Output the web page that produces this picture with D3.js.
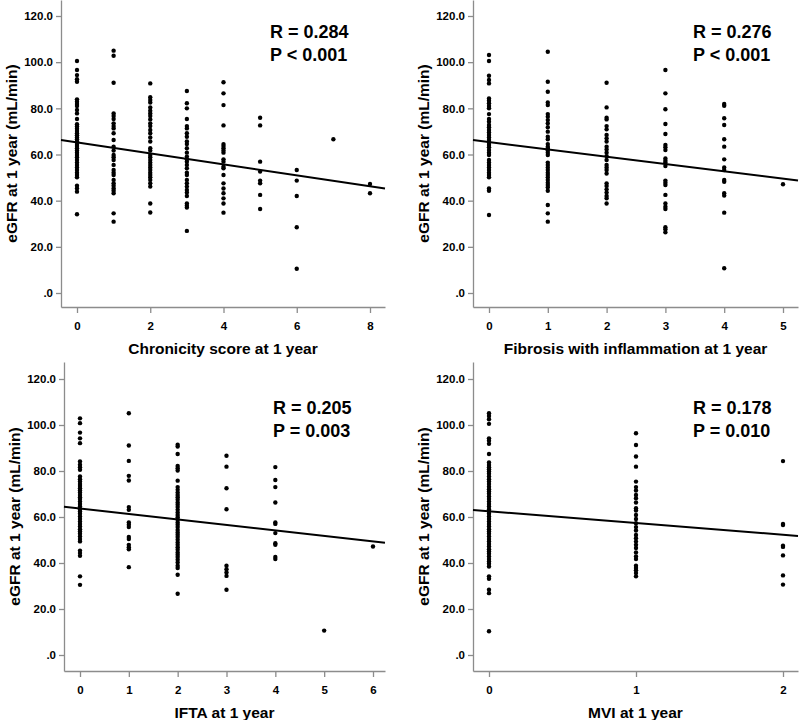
<!DOCTYPE html>
<html>
<head>
<meta charset="utf-8">
<script src="https://cdn.jsdelivr.net/npm/d3@7"></script>
<style>
    body { margin: 0; background: #fff; }
    text { font-family: "Liberation Sans", Arial, sans-serif; font-weight: bold; fill: #000; }
    .axis path, .axis line { stroke: #8c8c8c; stroke-width: 1.3; }
    .axis text { font-size: 11.5px; }
</style>
</head>
<body>
<script>
// eGFR at 1 year values, grouped by score (index = score)
var chronicityScore = [
    [100.5, 96.6, 94.4, 92.6, 91.5, 83.9, 82.9, 81.9, 81, 79.3, 77.8, 75.4, 73.1, 72.1, 71.2, 70.2, 69.2, 68.3, 67.4, 66.6, 65.6, 64.5, 63.7, 62.7, 61.7, 60.8, 59.8, 58.8, 57.6, 56.5, 55.5, 54.4, 53.3, 52.1, 51.1, 50.1, 46.5, 45.3, 43.9, 34.1],
    [105, 102.8, 91.1, 77.8, 76.7, 75.4, 73.5, 72.3, 71.3, 69.2, 66.3, 63.4, 61.7, 59.8, 58.8, 57.6, 55.5, 53.3, 52.1, 51.1, 49, 47.5, 46.5, 45.3, 44.3, 43.2, 34.5, 30.9],
    [90.8, 84.8, 83.6, 82.5, 80.4, 79, 77.8, 76.7, 75.2, 73.5, 72.3, 70.6, 69.2, 67.4, 65.6, 62.7, 61.7, 59.8, 58.8, 57.6, 56.5, 55.5, 54.4, 53.3, 52.1, 51.1, 50.1, 49, 47.5, 46.1, 38.8, 34.9],
    [87.5, 82.2, 80, 75.4, 72.3, 71.3, 69.2, 67.7, 65.6, 64.5, 62.7, 60.8, 59.1, 57.9, 56.9, 55.5, 54, 52.1, 51.1, 49, 47.5, 46.1, 44.6, 43.5, 42, 38.8, 37.8, 37, 26.9],
    [91.3, 86.5, 81.4, 72.6, 64.5, 63.7, 62.7, 61.7, 60.8, 57.9, 56.9, 54.7, 54, 51.1, 47.5, 45.3, 43.2, 41, 38.8, 34.8],
    [75.9, 72.6, 56.9, 52.6, 48.7, 47.5, 42.5, 36.4],
    [53.3, 48.7, 42, 28.5, 10.5],
    [66.6],
    [47.2, 43.2]
];
var fibrosisInflammation = [
    [103.1, 100.5, 94.1, 92.3, 90.8, 84.3, 83.3, 82.2, 81, 80, 77.5, 75.4, 74.2, 72.8, 71.8, 70.6, 69.5, 68.5, 67.4, 66.3, 65.1, 64.1, 63.1, 61.9, 60.8, 59.8, 57.6, 56.5, 55.5, 54.4, 53.3, 52.1, 51.1, 50.1, 45.3, 44.3, 33.8],
    [104.5, 91.5, 87.2, 82.5, 81.4, 77.5, 76.4, 74.9, 73.5, 71.8, 69.9, 67.7, 66.6, 64.5, 63.4, 62.7, 61.7, 60.8, 59.8, 56.5, 55.5, 54.4, 53.3, 52.1, 51.1, 50.1, 49, 47.8, 46.8, 45.8, 44.3, 38.1, 34.5, 30.9],
    [91.1, 80.4, 75.9, 75.2, 72.3, 70.9, 68.5, 67, 65.6, 63.4, 62.2, 60.8, 59.3, 57.6, 55.5, 54.4, 53.3, 51.8, 47.5, 46.4, 44.9, 43.5, 42, 41, 38.8],
    [96.6, 86.5, 79.6, 73.2, 68.9, 64.1, 63.1, 61.9, 58.3, 57.3, 56.5, 55, 48.7, 47.8, 46.8, 42.5, 38.8, 37.4, 36.4, 28.5, 27.6, 26.3],
    [81.9, 81.1, 75.7, 72.8, 66.6, 63.4, 57.9, 54.4, 53.3, 49, 48.2, 43.2, 42.2, 34.8, 10.7],
    [47.1]
];
var ifta = [
    [102.9, 100.8, 96.7, 94.2, 92.1, 84.1, 82.7, 81.6, 80.5, 77.6, 76.4, 75.4, 74.4, 73.5, 72.5, 71.5, 70.6, 69.6, 68.6, 67.8, 66.7, 65.7, 64.6, 63.4, 62.4, 61.4, 60.2, 59.1, 58, 57, 55.9, 54.7, 53.7, 52.7, 51.5, 50.4, 49.4, 45.4, 44.3, 43.1, 34.2, 30.5],
    [105.1, 91.1, 84.4, 77.9, 75.9, 64.3, 63.1, 57.6, 56.6, 55.6, 51.3, 50.4, 47.9, 46.9, 46, 38.2],
    [91.4, 90.6, 87.4, 82.2, 81.2, 80.2, 75.8, 73, 71.8, 70.6, 69.6, 68.6, 67.5, 66.3, 65.3, 64.3, 63.1, 62, 60.9, 59.9, 58.8, 57.6, 56.6, 55.6, 54.4, 53.3, 52.3, 51.3, 50.1, 48.9, 47.9, 46.9, 45.8, 44.6, 43.6, 42.6, 41.4, 40.2, 38.8, 37.8, 34.9, 26.6],
    [86.6, 81.9, 72.5, 63.4, 38.8, 37.3, 35.9, 34.4, 28.4],
    [81.7, 76.1, 73, 66.3, 57.6, 57, 53, 48.6, 47.9, 42.6, 41.7],
    [10.6],
    [47.2]
];
var mvi = [
    [105.1, 103.9, 102.5, 100.5, 94.2, 93.2, 91.8, 87.4, 83.7, 82.6, 81.6, 80.8, 79.8, 78.8, 77.6, 76.4, 75.4, 74.4, 73.2, 72.1, 71.1, 70.1, 68.9, 67.8, 66.7, 65.7, 64.6, 63.4, 62.4, 61.4, 60.2, 59.1, 58, 57, 55.9, 54.7, 53.7, 52.7, 51.5, 50.4, 49.4, 48.3, 47.2, 46, 45, 44, 42.8, 41.7, 40.7, 39.7, 38.5, 34.2, 33.1, 28.4, 26.9, 10.3],
    [96.4, 91.3, 86.3, 81.9, 75.4, 73, 71.5, 69.6, 68.2, 66.3, 63.8, 62.8, 60.9, 59.1, 57.3, 55.6, 54.1, 52.2, 50.8, 49.3, 47.9, 46.5, 44.6, 42.8, 41.7, 38.8, 37.8, 36.8, 35.6, 34.2],
    [84.3, 57, 56.5, 47.5, 47, 43.3, 34.6, 30.6]
];

var xTitles = ["Chronicity score at 1 year", "Fibrosis with inflammation at 1 year", "IFTA at 1 year", "MVI at 1 year"];
var xTicks = [[0, 2, 4, 6, 8], [0, 1, 2, 3, 4, 5], [0, 1, 2, 3, 4, 5, 6], [0, 1, 2]];
var yTicks = [0, 20, 40, 60, 80, 100, 120];
var fitIntercept = [65.25, 65.4, 63.7, 62.5];
var fitSlope = [-2.38, -3.18, -2.38, -5.1];
var rLabels = ["R = 0.284", "R = 0.276", "R = 0.205", "R = 0.178"];
var pLabels = ["P < 0.001", "P < 0.001", "P = 0.003", "P = 0.010"];
var yTitle = "eGFR at 1 year (mL/min)";

// pixel layout of each panel
var panels = [
    { data: chronicityScore, left: 61, right: 385, top: 0, bottom: 307, y0: 293, y120: 16, xMax: 8, x0: 77, x1: 370 },
    { data: fibrosisInflammation, left: 473, right: 798, top: 0, bottom: 307, y0: 293, y120: 16, xMax: 5, x0: 489, x1: 783 },
    { data: ifta, left: 64, right: 385, top: 362, bottom: 671, y0: 655, y120: 379, xMax: 6, x0: 80, x1: 373 },
    { data: mvi, left: 473, right: 798, top: 362, bottom: 671, y0: 655, y120: 379, xMax: 2, x0: 489, x1: 783 }
];

var svg = d3.select("body").append("svg")
    .attr("width", 800)
    .attr("height", 720);

function yFormat(d) {
    return d === 0 ? ".0" : d.toFixed(1);
}

function drawPanel(p, i) {
    var xs = d3.scaleLinear().domain([0, p.xMax]).range([p.x0, p.x1]);
    var x = d3.scaleLinear().domain([xs.invert(p.left), xs.invert(p.right)]).range([p.left, p.right]);
    var ys = d3.scaleLinear().domain([0, 120]).range([p.y0, p.y120]);
    var y = d3.scaleLinear().domain([ys.invert(p.bottom), ys.invert(p.top)]).range([p.bottom, p.top]);

    var g = svg.append("g");

    g.append("g")
        .attr("class", "axis")
        .attr("transform", "translate(" + p.left + ",0)")
        .call(d3.axisLeft(y).tickValues(yTicks).tickFormat(yFormat).tickSize(5).tickSizeOuter(0).tickPadding(3));

    g.append("g")
        .attr("class", "axis")
        .attr("transform", "translate(0," + p.bottom + ")")
        .call(d3.axisBottom(x).tickValues(xTicks[i]).tickFormat(d3.format("d")).tickSize(6).tickSizeOuter(0).tickPadding(9));

    var points = [];
    p.data.forEach(function (col, k) {
        col.forEach(function (v) { points.push({ x: k, y: v }); });
    });

    g.selectAll(".dot")
        .data(points)
        .enter().append("circle")
        .attr("class", "dot")
        .attr("cx", function (d) { return x(d.x); })
        .attr("cy", function (d) { return y(d.y); })
        .attr("r", 2.2)
        .attr("fill", "#000");

    var ends = x.domain();
    g.append("line")
        .attr("x1", x(ends[0]))
        .attr("y1", y(fitIntercept[i] + fitSlope[i] * ends[0]))
        .attr("x2", x(ends[1]))
        .attr("y2", y(fitIntercept[i] + fitSlope[i] * ends[1]))
        .attr("stroke", "#000")
        .attr("stroke-width", 2);

    var tx = p.left + (i % 2 === 0 ? 209 : 220);
    g.append("text")
        .attr("x", tx)
        .attr("y", p.top + (i < 2 ? 38 : 52))
        .style("font-size", "18px")
        .text(rLabels[i]);
    g.append("text")
        .attr("x", tx)
        .attr("y", p.top + (i < 2 ? 61 : 75))
        .style("font-size", "18px")
        .text(pLabels[i]);

    g.append("text")
        .attr("x", (p.left + p.right) / 2)
        .attr("y", p.bottom + 47)
        .attr("text-anchor", "middle")
        .style("font-size", "15.5px")
        .text(xTitles[i]);

    g.append("text")
        .attr("transform", "translate(" + (p.left - 44) + "," + ((p.top + p.bottom) / 2) + ") rotate(-90)")
        .attr("text-anchor", "middle")
        .style("font-size", "15.5px")
        .text(yTitle);
}

panels.forEach(drawPanel);
</script>
</body>
</html>
